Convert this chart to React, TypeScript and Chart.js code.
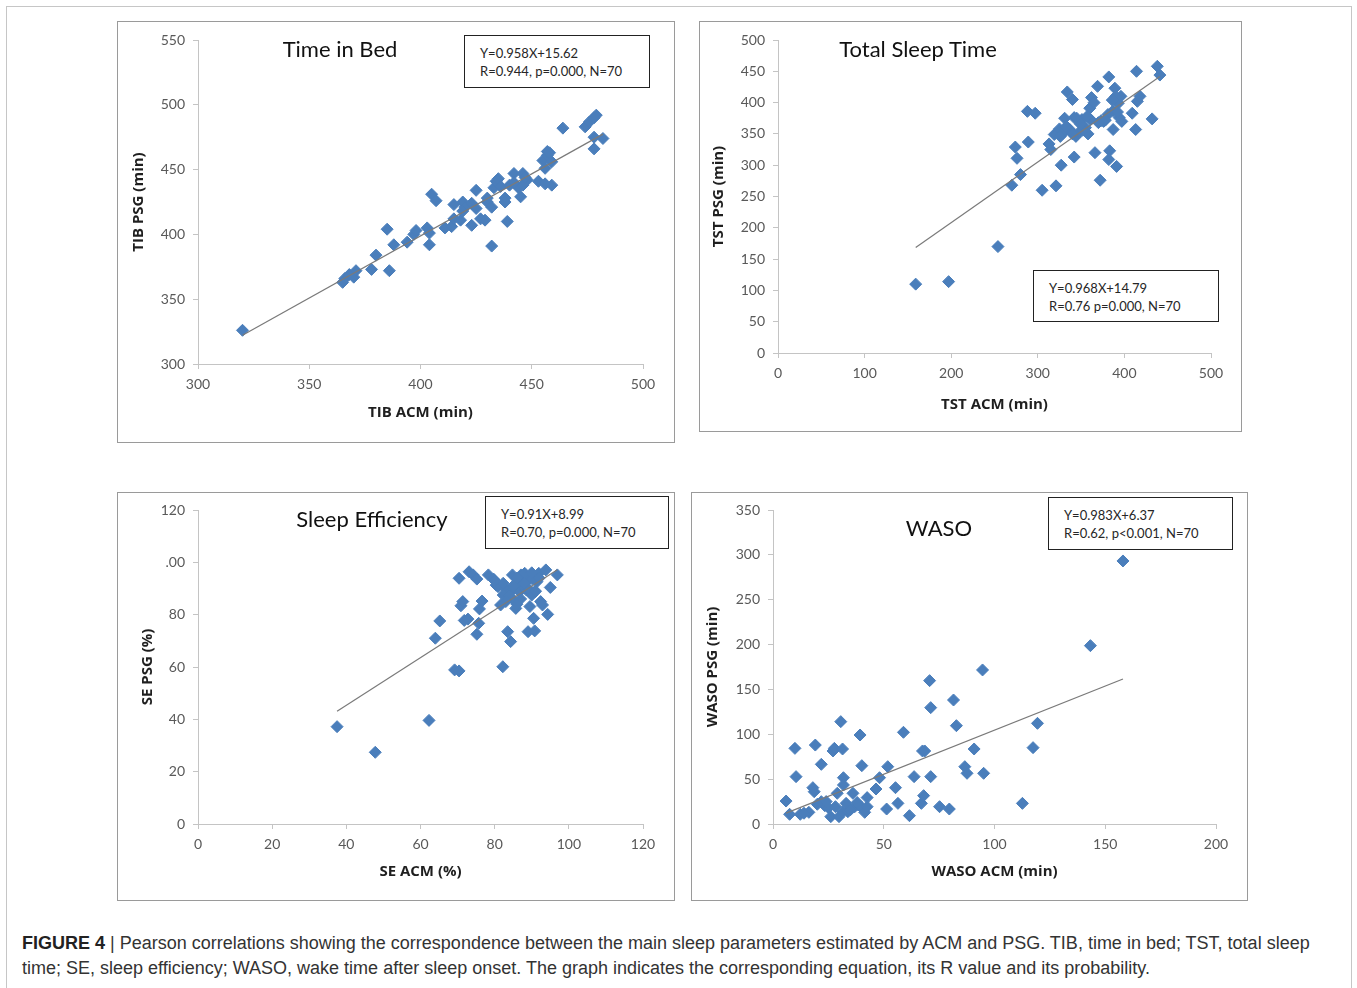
import React, { useEffect, useRef } from 'react';
import { Chart, registerables } from 'chart.js';
Chart.register(...registerables);

// ---------------- DATA ----------------
// Time in Bed (TIB)
const tibAcm = [320, 365, 366, 368, 370, 371, 378, 380, 385, 386, 388, 394, 397, 398, 403, 404, 404, 405, 407, 411, 414, 415, 415, 418, 419, 420, 423, 423, 425, 425, 427, 429, 430, 432, 432, 433, 434, 435, 436, 438, 438, 439, 440, 442, 444, 445, 446, 448, 446, 453, 455, 456, 456, 457, 457, 458, 459, 459, 464, 474, 476, 478, 479, 478, 478, 482, 430, 442, 419, 447];
const tibPsg = [326, 363, 366, 369, 367, 372, 373, 384, 404, 372, 392, 394, 400, 403, 405, 392, 401, 431, 426, 405, 406, 423, 412, 411, 425, 421, 407, 424, 434, 420, 412, 411, 425, 391, 421, 436, 441, 443, 437, 428, 425, 410, 438, 447, 436, 429, 447, 442, 438, 441, 457, 451, 439, 461, 464, 463, 456, 438, 482, 483, 487, 490, 492, 475, 466, 474, 428, 440, 418, 444];
const tibSlope = 0.958;
const tibIntercept = 15.62;
const tibXTicks = ['300', '350', '400', '450', '500'];
const tibYTicks = ['300', '350', '400', '450', '500', '550'];

// Total Sleep Time (TST)
const tstAcm = [159, 197, 254, 270, 280, 274, 276, 289, 288, 297, 305, 321, 313, 315, 319, 325, 327, 329, 331, 334, 337, 340, 342, 342, 344, 348, 351, 355, 358, 360, 362, 361, 366, 369, 373, 372, 376, 381, 382, 383, 382, 387, 389, 387, 391, 393, 396, 394, 397, 409, 414, 413, 415, 418, 432, 438, 441, 345, 352, 333, 365, 390, 378, 340, 392, 349, 357, 326, 386, 370];
const tstPsg = [110, 114, 170, 268, 285, 329, 311, 337, 386, 383, 260, 267, 334, 325, 349, 358, 300, 351, 375, 417, 357, 405, 376, 313, 346, 353, 373, 360, 350, 391, 408, 373, 320, 426, 371, 276, 370, 381, 441, 323, 309, 387, 423, 357, 298, 399, 410, 376, 370, 383, 450, 357, 402, 410, 374, 458, 444, 375, 356, 362, 400, 410, 372, 350, 385, 366, 378, 346, 404, 368];
const tstSlope = 0.968;
const tstIntercept = 14.79;
const tstXTicks = ['0', '100', '200', '300', '400', '500'];
const tstYTicks = ['0', '50', '100', '150', '200', '250', '300', '350', '400', '450', '500'];

// Sleep Efficiency (SE)
const seAcm = [37.5, 47.8, 62.3, 64, 65.2, 69.2, 70.4, 70.4, 70.9, 71.4, 71.8, 72.8, 73.1, 74.2, 75.2, 75.2, 75.7, 75.9, 76.6, 78.3, 79.7, 80.4, 80.9, 82.2, 81.6, 82.8, 83.5, 84.3, 84.3, 84.8, 85.1, 85.7, 87.1, 87.6, 88.1, 88.6, 89, 89, 89.5, 90, 90.5, 90.8, 91.4, 91.9, 92.4, 92.9, 93.8, 94.3, 95, 96.9, 86.2, 82.3, 85.2, 86.7, 88.1, 90.2, 90.9, 82.3, 84, 87, 89, 91, 83, 86, 88, 92, 80, 85, 90, 86];
const sePsg = [37.2, 27.4, 39.6, 71, 77.6, 58.9, 58.5, 93.9, 83.4, 85, 77.8, 78.3, 96.4, 95.2, 93.6, 72.5, 76.7, 82.2, 85.2, 95.2, 93.6, 91.3, 90.7, 60.1, 83.7, 90.1, 73.5, 69.7, 88.8, 95.2, 85.6, 82.4, 95.2, 91.3, 95.8, 89.4, 93.2, 73.5, 83.1, 87.5, 78.6, 73.8, 92.6, 95.8, 85, 83.7, 97.1, 80.1, 90.4, 95.2, 92, 92, 90.1, 88.8, 90.1, 93.6, 88.8, 87.5, 87, 86, 90, 89, 85, 94, 92, 94, 93, 91, 96, 84];
const seSlope = 0.91;
const seIntercept = 8.99;
const seXTicks = ['0', '20', '40', '60', '80', '100', '120'];
const seYTicks = ['0', '20', '40', '60', '80', '.00', '120'];

// Wake After Sleep Onset (WASO)
const wasoAcm = [5.9, 7.5, 9.9, 10.4, 12.3, 16.2, 18, 18.6, 19.1, 21.8, 21.8, 23.4, 25, 26.1, 27.1, 27.7, 28.2, 29, 29.8, 30.6, 31.4, 31.8, 31.8, 31.4, 33, 33.8, 36.1, 36.9, 38.5, 39.3, 40.1, 40.1, 41.4, 42.5, 42.5, 46.5, 48.1, 51.8, 51.3, 55.3, 56.4, 58.9, 61.6, 63.7, 67, 67.5, 68.5, 68, 70.7, 71.2, 71.2, 75.2, 79.6, 81.5, 82.8, 86.6, 87.6, 90.8, 94.6, 95.1, 112.6, 117.4, 119.4, 143.3, 158, 14, 20, 24, 35, 38];
const wasoPsg = [25.6, 10.8, 84.3, 52.8, 10.8, 13, 40.5, 36, 88, 66.5, 24.9, 20.4, 18.2, 8.2, 81.4, 84.3, 19.3, 34.2, 8.2, 114.1, 83.6, 51.6, 43.5, 13.7, 23, 13.7, 34.2, 19.3, 21.2, 99.2, 65, 18.2, 13, 19.3, 29.4, 39, 51.6, 63.9, 16.7, 40.5, 23, 102.2, 9.3, 52.8, 23, 81.4, 81.4, 31.6, 159.8, 129.7, 52.8, 19.3, 16.7, 138.2, 109.6, 63.9, 56.5, 83.6, 171.7, 56.5, 23, 85.1, 112.2, 198.8, 293.2, 12, 22, 25, 16, 24];
const wasoSlope = 0.983;
const wasoIntercept = 6.37;
const wasoXTicks = ['0', '50', '100', '150', '200'];
const wasoYTicks = ['0', '50', '100', '150', '200', '250', '300', '350'];

// ---------------- STYLE ----------------
const FONT = 'Lato, "Open Sans", sans-serif';
const TITLE_FONT = '"Open Sans", "Noto Sans", sans-serif';
const POINT_COLOR = '#4A7EBB';
const AXIS_COLOR = '#c4c4c4';
const TICK_COLOR = '#595959';

type Panel = {
  box: { left: number; top: number; width: number; height: number };
  area: { left: number; right: number; top: number; bottom: number };
  yTitlePad: number;
  xTitlePad: number;
  xMin: number; xMax: number; xStep: number; xLabels: string[];
  yMin: number; yMax: number; yStep: number; yLabels: string[];
  xTitle: string; yTitle: string;
  xs: number[]; ys: number[];
  slope: number; intercept: number;
};

const panels: Panel[] = [
  {
    box: { left: 118, top: 22, width: 556, height: 420 },
    area: { left: 80, right: 525, top: 18, bottom: 342 },
    yTitlePad: 12, xTitlePad: 20,
    xMin: 300, xMax: 500, xStep: 50, xLabels: tibXTicks,
    yMin: 300, yMax: 550, yStep: 50, yLabels: tibYTicks,
    xTitle: 'TIB ACM (min)', yTitle: 'TIB PSG (min)',
    xs: tibAcm, ys: tibPsg, slope: tibSlope, intercept: tibIntercept,
  },
  {
    box: { left: 700, top: 22, width: 541, height: 409 },
    area: { left: 78, right: 511, top: 18, bottom: 331 },
    yTitlePad: 10, xTitlePad: 17,
    xMin: 0, xMax: 500, xStep: 100, xLabels: tstXTicks,
    yMin: 0, yMax: 500, yStep: 50, yLabels: tstYTicks,
    xTitle: 'TST ACM (min)', yTitle: 'TST PSG (min)',
    xs: tstAcm, ys: tstPsg, slope: tstSlope, intercept: tstIntercept,
  },
  {
    box: { left: 118, top: 493, width: 556, height: 407 },
    area: { left: 80, right: 525, top: 17, bottom: 331 },
    yTitlePad: 21, xTitlePad: 19,
    xMin: 0, xMax: 120, xStep: 20, xLabels: seXTicks,
    yMin: 0, yMax: 120, yStep: 20, yLabels: seYTicks,
    xTitle: 'SE ACM (%)', yTitle: 'SE PSG (%)',
    xs: seAcm, ys: sePsg, slope: seSlope, intercept: seIntercept,
  },
  {
    box: { left: 692, top: 493, width: 555, height: 407 },
    area: { left: 81, right: 524, top: 17, bottom: 331 },
    yTitlePad: 12, xTitlePad: 19,
    xMin: 0, xMax: 200, xStep: 50, xLabels: wasoXTicks,
    yMin: 0, yMax: 350, yStep: 50, yLabels: wasoYTicks,
    xTitle: 'WASO ACM (min)', yTitle: 'WASO PSG (min)',
    xs: wasoAcm, ys: wasoPsg, slope: wasoSlope, intercept: wasoIntercept,
  },
];

function ScatterPanel({ p }: { p: Panel }) {
  const ref = useRef<HTMLCanvasElement | null>(null);
  useEffect(() => {
    if (!ref.current) return;
    const pts = p.xs.map((x, i) => ({ x, y: p.ys[i] }));
    const x0 = Math.min(...p.xs);
    const x1 = Math.max(...p.xs);
    const line = [
      { x: x0, y: p.slope * x0 + p.intercept },
      { x: x1, y: p.slope * x1 + p.intercept },
    ];
    const yW = p.area.left;
    const xH = p.box.height - p.area.bottom;
    const chart = new Chart(ref.current, {
      type: 'scatter',
      data: {
        datasets: [
          {
            type: 'line',
            data: line,
            borderColor: '#7a7a7a',
            borderWidth: 1.2,
            pointRadius: 0,
            showLine: true,
            fill: false,
          } as any,
          {
            data: pts,
            pointStyle: 'rectRot',
            pointRadius: 6,
            backgroundColor: POINT_COLOR,
            borderColor: POINT_COLOR,
            borderWidth: 1,
          },
        ],
      },
      options: {
        animation: false,
        responsive: false,
        maintainAspectRatio: false,
        layout: {
          padding: {
            left: 0,
            top: p.area.top,
            right: p.box.width - p.area.right,
            bottom: 0,
          },
        },
        plugins: { legend: { display: false }, tooltip: { enabled: false } },
        scales: {
          x: {
            type: 'linear',
            min: p.xMin,
            max: p.xMax,
            afterFit: (s: any) => { s.height = xH; },
            grid: { drawOnChartArea: false, drawTicks: true, tickLength: 5, color: AXIS_COLOR },
            border: { display: true, color: AXIS_COLOR, width: 1 },
            ticks: {
              stepSize: p.xStep,
              autoSkip: false,
              maxRotation: 0,
              padding: 7,
              color: TICK_COLOR,
              font: { family: FONT, size: 14 },
              callback: (v: any) => p.xLabels[Math.round((v - p.xMin) / p.xStep)] ?? String(v),
            },
            title: {
              display: true,
              text: p.xTitle,
              color: '#1f1f1f',
              font: { family: TITLE_FONT, size: 15, weight: 'bold' },
              padding: { top: 0, bottom: p.xTitlePad },
            },
          },
          y: {
            type: 'linear',
            min: p.yMin,
            max: p.yMax,
            afterFit: (s: any) => { s.width = yW; },
            grid: { drawOnChartArea: false, drawTicks: true, tickLength: 5, color: AXIS_COLOR },
            border: { display: true, color: AXIS_COLOR, width: 1 },
            ticks: {
              stepSize: p.yStep,
              autoSkip: false,
              padding: 8,
              color: TICK_COLOR,
              font: { family: FONT, size: 14 },
              callback: (v: any) => p.yLabels[Math.round((v - p.yMin) / p.yStep)] ?? String(v),
            },
            title: {
              display: true,
              text: p.yTitle,
              color: '#1f1f1f',
              font: { family: TITLE_FONT, size: 15, weight: 'bold' },
              padding: { top: p.yTitlePad, bottom: 0 },
            },
          },
        },
      },
    });
    return () => chart.destroy();
  }, [p]);
  return (
    <div
      style={{
        position: 'absolute',
        left: p.box.left,
        top: p.box.top,
        width: p.box.width,
        height: p.box.height,
        outline: '1.5px solid #9a9a9a',
      }}
    >
      <canvas ref={ref} width={p.box.width} height={p.box.height} style={{ display: 'block' }} />
    </div>
  );
}

const titles = [
  { text: 'Time in Bed', x: 340, y: 48 },
  { text: 'Total Sleep Time', x: 918, y: 48 },
  { text: 'Sleep Efficiency', x: 372, y: 518 },
  { text: 'WASO', x: 939, y: 527 },
];

const statBoxes = [
  { lines: ['Y=0.958X+15.62', 'R=0.944, p=0.000, N=70'], left: 464, top: 35, width: 186, height: 53 },
  { lines: ['Y=0.968X+14.79', 'R=0.76 p=0.000, N=70'], left: 1033, top: 270, width: 186, height: 52 },
  { lines: ['Y=0.91X+8.99', 'R=0.70, p=0.000, N=70'], left: 485, top: 496, width: 184, height: 53 },
  { lines: ['Y=0.983X+6.37', 'R=0.62, p<0.001, N=70'], left: 1048, top: 497, width: 185, height: 53 },
];

export default function App() {
  return (
    <div
      style={{
        position: 'absolute',
        left: 0,
        top: 0,
        width: 1357,
        height: 988,
        background: '#fff',
        overflow: 'hidden',
      }}
    >
      <div
        style={{
          position: 'absolute',
          left: 6,
          top: 6,
          width: 1344,
          height: 1000,
          border: '1px solid #c6c6c6',
        }}
      />
      {panels.map((p, i) => (
        <ScatterPanel key={i} p={p} />
      ))}
      {titles.map((t, i) => (
        <div
          key={'t' + i}
          style={{
            position: 'absolute',
            left: t.x,
            top: t.y,
            transform: 'translate(-50%, -50%)',
            fontFamily: FONT,
            fontSize: 22,
            color: '#111',
            whiteSpace: 'nowrap',
          }}
        >
          {t.text}
        </div>
      ))}
      {statBoxes.map((b, i) => (
        <div
          key={'s' + i}
          style={{
            position: 'absolute',
            left: b.left,
            top: b.top,
            width: b.width,
            height: b.height,
            boxSizing: 'border-box',
            border: '1px solid #222',
            background: '#fff',
            paddingLeft: 15,
            paddingTop: 8,
            fontFamily: FONT,
            fontSize: 13,
            lineHeight: '18px',
            color: '#262626',
            whiteSpace: 'nowrap',
          }}
        >
          {b.lines.map((l, j) => (
            <div key={j}>{l}</div>
          ))}
        </div>
      ))}
      <div
        style={{
          position: 'absolute',
          left: 22,
          top: 931,
          fontFamily: '"Liberation Sans Narrow", "Liberation Sans", Arial, sans-serif',
          fontSize: 18,
          lineHeight: '25px',
          color: '#333',
          whiteSpace: 'nowrap',
        }}
      >
        <div>
          <b style={{ color: '#222' }}>FIGURE 4 </b>| Pearson correlations showing the correspondence between the main sleep parameters estimated by ACM and PSG. TIB, time in bed; TST, total sleep
        </div>
        <div>
          time; SE, sleep efficiency; WASO, wake time after sleep onset. The graph indicates the corresponding equation, its R value and its probability.
        </div>
      </div>
    </div>
  );
}
